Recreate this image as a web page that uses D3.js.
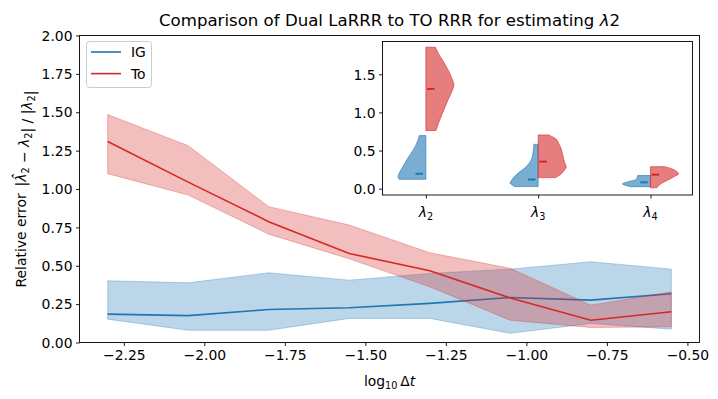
<!DOCTYPE html>
<html><head><meta charset="utf-8">
<script src="https://cdn.jsdelivr.net/npm/d3@7"></script>
<style>
body{margin:0;background:#fff}
svg text{font-family:"DejaVu Sans",sans-serif;fill:#000}
</style>
</head><body>
<svg id="chart" width="718" height="399"></svg>
<script>
// ---------- data ----------
const logDt   = [-2.3, -2.05, -1.8, -1.55, -1.3, -1.05, -0.8, -0.55];
const igMean  = [0.185, 0.175, 0.215, 0.226, 0.255, 0.293, 0.276, 0.318];
const igLow   = [0.152, 0.080, 0.080, 0.157, 0.157, 0.060, 0.124, 0.087];
const igHigh  = [0.402, 0.389, 0.454, 0.406, 0.450, 0.478, 0.526, 0.478];
const toMean  = [1.310, 1.045, 0.787, 0.580, 0.467, 0.290, 0.145, 0.200];
const toLow   = [1.100, 0.961, 0.706, 0.545, 0.363, 0.145, 0.098, 0.102];
const toHigh  = [1.485, 1.282, 0.885, 0.765, 0.585, 0.483, 0.243, 0.330];
const seriesNames = ["IG", "To"];
const xTicks = [-2.25, -2.0, -1.75, -1.5, -1.25, -1.0, -0.75, -0.5];
const yTicks = [0, 0.25, 0.5, 0.75, 1.0, 1.25, 1.5, 1.75, 2.0];

// inset: split violins (value, relative half-width)
const insetCats = ["2", "3", "4"];
const insetYTicks = [0, 0.5, 1.0, 1.5];
const igViolins = [
  [[0.123,0.95],[0.158,0.99],[0.201,0.95],[0.289,0.82],[0.42,0.61],[0.551,0.38],[0.696,0.23]],
  [[0.027,0.84],[0.048,0.93],[0.075,1.0],[0.105,0.96],[0.136,0.9],[0.202,0.72],[0.267,0.49],[0.333,0.32],[0.42,0.21],[0.508,0.17],[0.582,0.15]],
  [[0.026,0.7],[0.045,0.9],[0.062,1.0],[0.08,0.9],[0.1,0.7],[0.118,0.52],[0.14,0.48],[0.172,0.46]]
];
const toViolins = [
  [[0.763,0.36],[0.859,0.45],[0.99,0.59],[1.165,0.79],[1.296,0.95],[1.36,1.0],[1.45,0.92],[1.514,0.85],[1.6,0.73],[1.689,0.59],[1.75,0.48],[1.856,0.34]],
  [[0.145,0.62],[0.18,0.77],[0.223,0.89],[0.267,0.98],[0.29,1.0],[0.333,0.95],[0.42,0.89],[0.508,0.83],[0.595,0.73],[0.661,0.6],[0.705,0.37]],
  [[0.012,0.22],[0.027,0.26],[0.071,0.4],[0.114,0.62],[0.158,0.85],[0.195,1.0],[0.224,0.93],[0.255,0.8],[0.289,0.51]]
];
const igMedians = [0.195, 0.12, 0.083];
const toMedians = [1.308, 0.355, 0.184];

// ---------- layout ----------
const BLUE = "#1f77b4", RED = "#d62728";
const svg = d3.select("#chart");
const L = 79.5, R = 699.5, T = 35.5, B = 342.5;

const xSpan = d3.max(logDt) - d3.min(logDt);
const x = d3.scaleLinear()
  .domain([d3.min(logDt) - 0.05 * xSpan, d3.max(logDt) + 0.05 * xSpan])
  .range([L, R]);
const y = d3.scaleLinear().domain([0, 2]).range([B, T]);

const fmt2 = v => d3.format(".2f")(v).replace("-", "\u2212");

// bands + lines (order: IG line, IG band, To line, To band)
const series = [
  {name: "IG", color: BLUE, mean: igMean, low: igLow, high: igHigh},
  {name: "To", color: RED,  mean: toMean, low: toLow, high: toHigh}
];
const line = d3.line().x(d => x(d[0])).y(d => y(d[1]));
const area = d3.area().x(d => x(d[0])).y0(d => y(d[1])).y1(d => y(d[2]));

const plot = svg.append("g");
series.forEach(s => {
  plot.append("path")
    .attr("d", line(logDt.map((v, i) => [v, s.mean[i]])))
    .attr("fill", "none").attr("stroke", s.color).attr("stroke-width", 1.6);
  plot.append("path")
    .attr("d", area(logDt.map((v, i) => [v, s.low[i], s.high[i]])))
    .attr("fill", s.color).attr("fill-opacity", 0.3)
    .attr("stroke", s.color).attr("stroke-opacity", 0.3).attr("stroke-width", 1);
});

// axes
const xAxis = d3.axisBottom(x).tickValues(xTicks).tickFormat(fmt2).tickSize(3.5).tickPadding(3.5);
const yAxis = d3.axisLeft(y).tickValues(yTicks).tickFormat(d3.format(".2f")).tickSize(3.5).tickPadding(3.5);
const gx = svg.append("g").attr("transform", `translate(0,${B})`).call(xAxis);
const gy = svg.append("g").attr("transform", `translate(${L},0)`).call(yAxis);
[gx, gy].forEach(g => {
  g.select(".domain").remove();
  g.selectAll("line").attr("stroke", "#000").attr("stroke-width", 0.9);
  g.selectAll("text").attr("font-size", "13.9px").attr("font-family", "DejaVu Sans");
});
gx.selectAll("text").attr("dy", "0.76em");
gy.selectAll("text").attr("dy", "0.34em");

// frame
svg.append("rect").attr("x", L).attr("y", T).attr("width", R - L).attr("height", B - T)
  .attr("fill", "none").attr("stroke", "#000").attr("stroke-width", 0.9);

// title
svg.append("text").attr("x", (L + R) / 2).attr("y", 26).attr("text-anchor", "middle")
  .attr("font-size", "16.6px")
  .call(t => {
    t.append("tspan").text("Comparison of Dual LaRRR to TO RRR for estimating ");
    t.append("tspan").attr("font-style", "italic").text("\u03bb");
    t.append("tspan").text("2");
  });

// x label
svg.append("text").attr("x", (L + R) / 2).attr("y", 386).attr("text-anchor", "middle")
  .attr("font-size", "13.9px")
  .call(t => {
    t.append("tspan").text("log");
    t.append("tspan").attr("font-size", "9.7px").attr("dy", 3).text("10");
    t.append("tspan").attr("dy", -3).text("\u2009\u0394");
    t.append("tspan").attr("font-style", "italic").text("t");
  });

// y label
svg.append("text").attr("transform", `translate(26,${(T + B) / 2}) rotate(-90)`)
  .attr("text-anchor", "middle").attr("font-size", "13.9px")
  .call(t => {
    const sub = (txt) => { t.append("tspan").attr("font-size", "9.7px").attr("dy", 3).text(txt); t.append("tspan").attr("dy", -3).text(""); };
    t.append("tspan").text("Relative error\u2002|");
    t.append("tspan").attr("font-style", "italic").text("\u03bb\u0302");
    sub("2");
    t.append("tspan").text(" \u2212 ");
    t.append("tspan").attr("font-style", "italic").text("\u03bb");
    sub("2");
    t.append("tspan").text("| / |");
    t.append("tspan").attr("font-style", "italic").text("\u03bb");
    sub("2");
    t.append("tspan").text("|");
  });

// legend
const lg = svg.append("g");
lg.append("rect").attr("x", 86.5).attr("y", 41.5).attr("width", 65).attr("height", 46).attr("rx", 3)
  .attr("fill", "#fff").attr("fill-opacity", 0.8).attr("stroke", "#cccccc").attr("stroke-width", 1);
series.forEach((s, i) => {
  const yy = 52 + i * 21.6;
  lg.append("line").attr("x1", 91).attr("x2", 121).attr("y1", yy).attr("y2", yy)
    .attr("stroke", s.color).attr("stroke-width", 1.6);
  lg.append("text").attr("x", 131).attr("y", yy + 5).attr("font-size", "13.9px").text(seriesNames[i]);
});

// ---------- inset ----------
const IL = 382.5, IR = 692.5, IT = 41.5, IB = 195;
const inset = svg.append("g");
inset.append("rect").attr("x", IL).attr("y", IT).attr("width", IR - IL).attr("height", IB - IT)
  .attr("fill", "#fff");
const ix = d3.scaleLinear().domain([-0.386, 2.374]).range([IL, IR]);
const iy = d3.scaleLinear().domain([-0.083, 1.93]).range([IB, IT]);
const halfW = 0.25;

function violin(prof, pos, side, color) {
  const a = d3.area()
    .y(d => iy(d[0]))
    .x0(() => ix(pos))
    .x1(d => ix(pos + side * halfW * d[1]))
    .curve(d3.curveMonotoneY);
  inset.append("path").attr("d", a(prof))
    .attr("fill", color).attr("fill-opacity", 0.6)
    .attr("stroke", color).attr("stroke-opacity", 0.6).attr("stroke-width", 1);
}
insetCats.forEach((c, i) => {
  violin(igViolins[i], i, -1, BLUE);
  violin(toViolins[i], i, 1, RED);
});
insetCats.forEach((c, i) => {
  inset.append("line").attr("x1", ix(i - 0.092)).attr("x2", ix(i - 0.025))
    .attr("y1", iy(igMedians[i])).attr("y2", iy(igMedians[i]))
    .attr("stroke", BLUE).attr("stroke-width", 2);
  inset.append("line").attr("x1", ix(i + 0.01)).attr("x2", ix(i + 0.078))
    .attr("y1", iy(toMedians[i])).attr("y2", iy(toMedians[i]))
    .attr("stroke", RED).attr("stroke-width", 2);
});
const ixAxis = d3.axisBottom(ix).tickValues([0, 1, 2]).tickFormat("").tickSize(3.5);
const iyAxis = d3.axisLeft(iy).tickValues(insetYTicks).tickFormat(d3.format(".1f")).tickSize(3.5).tickPadding(3.5);
const gix = inset.append("g").attr("transform", `translate(0,${IB})`).call(ixAxis);
const giy = inset.append("g").attr("transform", `translate(${IL},0)`).call(iyAxis);
[gix, giy].forEach(g => {
  g.select(".domain").remove();
  g.selectAll("line").attr("stroke", "#000").attr("stroke-width", 0.9);
  g.selectAll("text").attr("font-size", "13.9px").attr("font-family", "DejaVu Sans");
});
giy.selectAll("text").attr("dy", "0.34em");
insetCats.forEach((c, i) => {
  inset.append("text").attr("x", ix(i)).attr("y", 217).attr("text-anchor", "middle")
    .attr("font-size", "13.9px")
    .call(t => {
      t.append("tspan").attr("font-style", "italic").text("\u03bb");
      t.append("tspan").attr("font-size", "9.7px").attr("dy", 3).text(c);
    });
});
inset.append("rect").attr("x", IL).attr("y", IT).attr("width", IR - IL).attr("height", IB - IT)
  .attr("fill", "none").attr("stroke", "#000").attr("stroke-width", 0.9);
</script>
</body></html>
